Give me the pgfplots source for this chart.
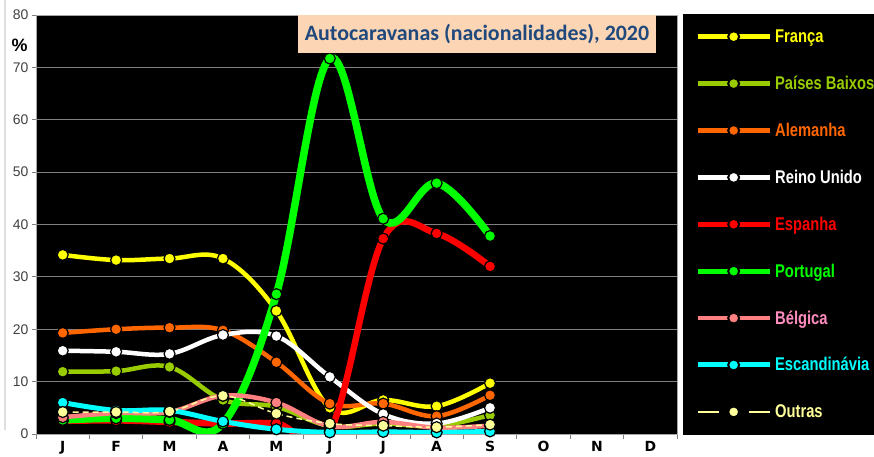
\documentclass[border=0pt]{standalone}
\usepackage{pgfplots}
\pgfplotsset{compat=1.18}
\usepackage{fontspec}
\setmainfont{Liberation Sans}
\newfontfamily\titlefont{Carlito}
\newfontfamily\xfont{DejaVu Sans}
\newfontfamily\legfont[FakeStretch=0.8]{Liberation Sans}

\definecolor{fr}{RGB}{255,255,0}
\definecolor{pb}{RGB}{153,204,0}
\definecolor{al}{RGB}{255,102,0}
\definecolor{es}{RGB}{255,0,0}
\definecolor{pt}{RGB}{0,255,0}
\definecolor{be}{RGB}{255,128,128}
\definecolor{betxt}{RGB}{255,140,190}
\definecolor{sc}{RGB}{0,255,255}
\definecolor{ou}{RGB}{255,255,153}
\definecolor{titlebg}{RGB}{252,213,180}
\definecolor{titleblue}{RGB}{31,73,125}
\definecolor{gridgray}{RGB}{128,128,128}

\pgfplotsset{
  serie/.style={smooth, tension=0.6, line width=4.5bp, color=#1,
    mark=*, mark size=5.5bp,
    mark options={solid, fill=#1, draw=black, line width=1.2bp}},
}

\begin{document}
\begin{tikzpicture}[x=1bp,y=1bp]
\useasboundingbox (-36,-23) rectangle (838,434);
\draw[gray!25, line width=1.5bp] (-31,434) -- (-31,4);
\fill[black] (647,-1) rectangle (838,420);
\begin{axis}[
  at={(0,0)}, anchor=south west,
  scale only axis, width=641bp, height=419bp,
  xmin=-0.5, xmax=11.5, ymin=0, ymax=80,
  axis background/.style={fill=black},
  xtick={0,...,11},
  xticklabels={J,F,M,A,M,J,J,A,S,O,N,D},
  minor xtick={-0.5,0.5,...,11.5},
  major x tick style={draw=none},
  minor tick length=5bp,
  major tick length=4bp,
  ytick={0,10,...,80},
  /pgf/number format/assume math mode=true,
  tick align=outside,
  tick pos=left,
  tick style={gridgray, line width=0.8bp},
  ymajorgrids,
  grid style={gridgray, line width=0.8bp},
  axis line style={gridgray!70, line width=0.8bp},
  yticklabel style={font=\fontsize{14}{14}\selectfont, text=black!75},
  xticklabel style={font=\xfont\bfseries\fontsize{14}{14}\selectfont, text=black},
  legend cell align=left,
  legend image code/.code={\draw[#1, mark repeat=2, mark phase=2, mark size=5.5bp,
    mark options={solid, draw=black, line width=2bp}] plot coordinates {(0bp,0bp) (36bp,0bp) (72bp,0bp)};},
  legend style={draw=none, fill=none, at={(1.028,0.963)}, anchor=north west,
    inner sep=0pt, row sep=34.9bp, column sep=3bp,
    nodes={inner sep=0pt, text height=12bp, text depth=0bp,
      font=\legfont\bfseries\fontsize{18.5}{18.5}\selectfont}},
]
\addplot[serie=fr] coordinates {(0,34.2) (1,33.2) (2,33.5) (3,33.5) (4,23.5) (5,5.0) (6,6.5) (7,5.3) (8,9.7)};
\addlegendentry{\textcolor{fr}{França}}
\addplot[serie=pb] coordinates {(0,11.9) (1,12.0) (2,12.8) (3,6.5) (4,5.2) (5,1.5) (6,2.0) (7,1.5) (8,3.6)};
\addlegendentry{\textcolor{pb}{Países Baixos}}
\addplot[serie=al] coordinates {(0,19.3) (1,20.0) (2,20.3) (3,19.8) (4,13.7) (5,5.8) (6,5.8) (7,3.4) (8,7.4)};
\addlegendentry{\textcolor{al}{Alemanha}}
\addplot[serie=white] coordinates {(0,15.9) (1,15.7) (2,15.3) (3,18.9) (4,18.7) (5,10.9) (6,3.8) (7,2.0) (8,5.0)};
\addlegendentry{\textcolor{white}{Reino Unido}}
\addplot[serie=es, line width=6.5bp, legend image post style={line width=5bp}]
  coordinates {(0,2.5) (1,2.6) (2,2.3) (3,2.0) (4,2.0) (5,0.5) (6,37.3) (7,38.3) (8,32.0)};
\addlegendentry{\textcolor{es}{Espanha}}
\addplot[serie=pt, line width=7.5bp, legend image post style={line width=5bp}]
  coordinates {(0,2.7) (1,3.0) (2,2.7) (3,2.0) (4,26.7) (5,71.7) (6,41.1) (7,47.9) (8,37.8)};
\addlegendentry{\textcolor{pt}{Portugal}}
\addplot[serie=be] coordinates {(0,3.2) (1,4.0) (2,4.2) (3,7.3) (4,6.0) (5,1.5) (6,2.3) (7,1.2) (8,1.6)};
\addlegendentry{\textcolor{betxt}{Bélgica}}
\addplot[serie=sc, line width=5bp] coordinates {(0,6.0) (1,4.5) (2,4.5) (3,2.4) (4,0.9) (5,0.3) (6,0.4) (7,0.3) (8,0.5)};
\addlegendentry{\textcolor{sc}{Escandinávia}}
\addplot[serie=ou, line width=1.5bp, dash pattern=on 6bp off 4bp,
  legend image post style={dash pattern=on 21bp off 30bp}]
  coordinates {(0,4.2) (1,4.2) (2,4.3) (3,7.3) (4,3.9) (5,2.0) (6,1.6) (7,1.3) (8,1.8)};
\addlegendentry{\textcolor{ou}{Outras}}
\end{axis}
\node[fill=titlebg, minimum width=358bp, minimum height=38bp, inner sep=0pt,
  text=titleblue, font=\titlefont\bfseries\fontsize{22}{22}\selectfont]
  at (441,400) {Autocaravanas (nacionalidades), 2020};
\node[font=\bfseries\fontsize{18}{18}\selectfont] at (-16.5,389) {\%};
\end{tikzpicture}
\end{document}
